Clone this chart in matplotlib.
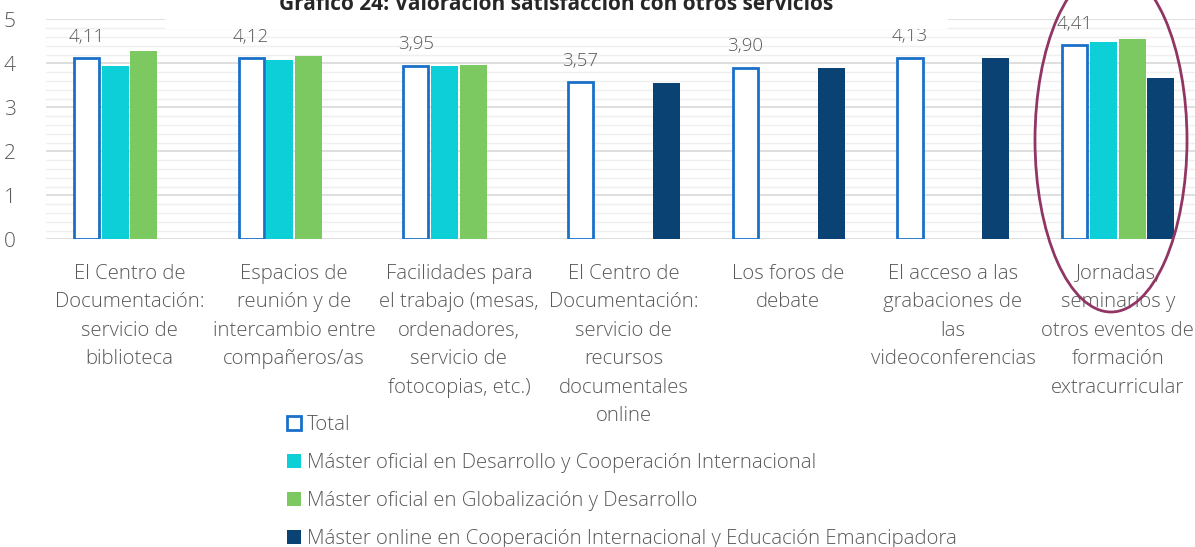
import matplotlib
matplotlib.use('Agg')
import matplotlib.pyplot as plt
from matplotlib.patches import Patch, Ellipse, Rectangle
import numpy as np

categories = [
    "El Centro de\nDocumentación:\nservicio de\nbiblioteca",
    "Espacios de\nreunión y de\nintercambio entre\ncompañeros/as",
    "Facilidades para\nel trabajo (mesas,\nordenadores,\nservicio de\nfotocopias, etc.)",
    "El Centro de\nDocumentación:\nservicio de\nrecursos\ndocumentales\nonline",
    "Los foros de\ndebate",
    "El acceso a las\ngrabaciones de\nlas\nvideoconferencias",
    "Jornadas,\nseminarios y\notros eventos de\nformación\nextracurricular",
]
series_names = [
    "Total",
    "Máster oficial en Desarrollo y Cooperación Internacional",
    "Máster oficial en Globalización y Desarrollo",
    "Máster online en Cooperación Internacional y Educación Emancipadora",
]
total = [4.11, 4.12, 3.95, 3.57, 3.90, 4.13, 4.41]
desarrollo_coop = [3.95, 4.07, 3.94, None, None, None, 4.49]
globalizacion = [4.29, 4.17, 3.96, None, None, None, 4.56]
online = [None, None, None, 3.56, 3.90, 4.13, 3.67]
title = "Gráfico 24: Valoración satisfacción con otros servicios"

W, H = 1195, 547
FONT = ['Open Sans', 'DejaVu Sans']
plt.rcParams['font.family'] = FONT
TXT = '#595959'

fig = plt.figure(figsize=(W / 100, H / 100), dpi=100)
fig.patch.set_facecolor('white')

base_y = 239.3
top_y = 19.3
ax_left = 46
ax = fig.add_axes([ax_left / W, (H - base_y) / H, (W - ax_left) / W, (base_y - top_y) / H])

x = np.arange(len(categories))
step = 0.174
bw = 0.164
offsets = [-1.5 * step, -0.5 * step, 0.5 * step, 1.5 * step]
colors = ['white', '#0CCFD8', '#7DC961', '#0B4274']

all_series = [total, desarrollo_coop, globalizacion, online]
for k, ser in enumerate(all_series):
    xs = [xi + offsets[k] for xi, v in zip(x, ser) if v is not None]
    vs = [v for v in ser if v is not None]
    if k == 0:
        ax.bar(xs, vs, width=bw - 0.012, facecolor='white', edgecolor='#1A70C8',
               linewidth=2.0, zorder=3)
    else:
        ax.bar(xs, vs, width=bw, facecolor=colors[k], edgecolor='none', zorder=3)

for xi, v in zip(x, total):
    ax.text(xi + offsets[0], v + 0.28, f"{v:.2f}".replace('.', ','), ha='center',
            va='bottom', fontsize=13.5, color=TXT, fontweight='light', zorder=4)

px_per_unit = 164.7
xl = -(129.5 - ax_left) / px_per_unit
ax.set_xlim(xl, xl + (W - ax_left) / px_per_unit)
ax.set_ylim(0, 5)

ax.set_yticks(range(0, 6))
ax.set_yticks(np.arange(0, 5.01, 0.2), minor=True)
ax.yaxis.grid(True, which='minor', color='#EFEFEF', linewidth=1.0, zorder=0)
ax.yaxis.grid(True, which='major', color='#D9D9D9', linewidth=1.2, zorder=1)
ax.tick_params(axis='y', which='both', length=0, pad=22, labelsize=15, labelcolor=TXT)
for lab in ax.get_yticklabels():
    lab.set_fontweight('light')
ax.set_xticks(x)
ax.set_xticklabels(categories, fontsize=14.7, color=TXT, linespacing=1.57, fontweight='light')
ax.tick_params(axis='x', length=0, pad=17.5)
for s in ax.spines.values():
    s.set_visible(False)
ax.set_axisbelow(True)

# legend
handles = [Patch(facecolor=c, edgecolor=('#1A70C8' if i == 0 else c), linewidth=(2 if i == 0 else 0))
           for i, c in enumerate(colors)]
leg = fig.legend(handles, series_names, loc='upper left',
                 bbox_to_anchor=(279 / W, 1 - 407 / H), frameon=False,
                 fontsize=14.7, handlelength=0.68, handleheight=0.68,
                 handletextpad=0.3, labelspacing=0.88, borderaxespad=0)
for t in leg.get_texts():
    t.set_color(TXT)
    t.set_fontweight('light')

# title box and title
fig.add_artist(Rectangle((165 / W, 1 - 29 / H), (948 - 165) / W, 29 / H,
                         transform=fig.transFigure, facecolor='white', edgecolor='none', zorder=10))
fig.text(556 / W, 1 - 10 / H, title, ha='center', va='baseline', fontsize=15,
         fontweight='bold', color='#262626', zorder=11)

# highlight ellipse
fig.add_artist(Ellipse((1111 / W, 1 - 140 / H), 152 / W, 344 / H, transform=fig.transFigure,
                       facecolor='none', edgecolor='#913664', linewidth=2.0, zorder=12,
                       clip_on=False))

fig.savefig('out.png', dpi=100, facecolor='white')
